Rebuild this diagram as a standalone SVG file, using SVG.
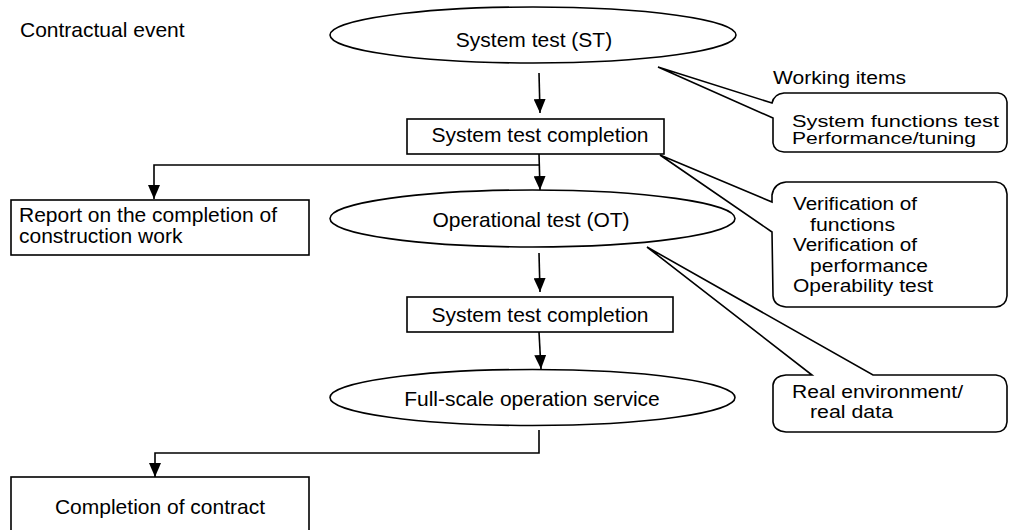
<svg xmlns="http://www.w3.org/2000/svg" width="1009" height="530" viewBox="0 0 1009 530">
<style>
text{font-family:"Liberation Sans",Arial,sans-serif;font-size:21px;fill:#000}
.c{text-anchor:middle}
.b{font-size:17.5px}
.s{fill:#fff;stroke:#000;stroke-width:1.6}
.ln{fill:none;stroke:#000;stroke-width:1.6}
</style>
<defs>
<marker id="ah" viewBox="0 0 14 12" refX="14" refY="6" markerWidth="14" markerHeight="12" orient="auto" markerUnits="userSpaceOnUse"><path d="M0,0 L14,6 L0,12 z" fill="#000"/></marker>
</defs>
<rect width="1009" height="530" fill="#fff"/>
<text x="20" y="37">Contractual event</text>

<g id="connectors" class="ln" marker-end="url(#ah)">
<path d="M539,73 L540,113"/>
<path d="M539,154 L540,190"/>
<path d="M539,165 H154 V199"/>
<path d="M539,253 L540,292"/>
<path d="M539,332 L541,369"/>
<path d="M539,430 V453 H155 V477"/>
</g>

<g id="st"><ellipse class="s" cx="533" cy="35" rx="203" ry="28"/><text class="c" x="534" y="47">System test (ST)</text></g>
<g id="stc1"><rect class="s" x="407" y="119" width="257" height="35"/><text class="c" x="540" y="142">System test completion</text></g>
<g id="report"><rect class="s" x="11" y="200" width="298" height="55"/><text x="19" y="222">Report on the completion of</text><text x="19" y="243">construction work</text></g>
<g id="ot"><ellipse class="s" cx="532.5" cy="218.5" rx="202.5" ry="28.5"/><text class="c" x="531" y="227">Operational test (OT)</text></g>
<g id="stc2"><rect class="s" x="407" y="297" width="266" height="35"/><text class="c" x="540" y="322">System test completion</text></g>
<g id="full"><ellipse class="s" cx="532.5" cy="397.5" rx="202.5" ry="28"/><text class="c" x="532" y="406">Full-scale operation service</text></g>
<g id="contract"><rect class="s" x="11" y="477" width="298" height="60"/><text class="c" x="160" y="514">Completion of contract</text></g>

<g id="working-items">
<text class="b" x="773" y="84" textLength="133" lengthAdjust="spacingAndGlyphs">Working items</text>
<path class="s" d="M773,118 L658,67 L772,103 Q774,94 784,93 L998,93 Q1006,94 1007,102 L1007,143 Q1006,152 998,152 L784,152 Q774,151 773,143 Z"/>
<text class="b" style="font-size:16px" x="792" y="127" textLength="207" lengthAdjust="spacingAndGlyphs">System functions test</text>
<text class="b" style="font-size:16px" x="792" y="144" textLength="184" lengthAdjust="spacingAndGlyphs">Performance/tuning</text>
</g>
<g id="verification">
<path class="s" d="M772,232 L660,155 L772,202 L772,195 Q774,183 786,182 L996,182 Q1006,183 1007,194 L1007,296 Q1006,306 996,307 L786,307 Q774,306 773,296 Z"/>
<text class="b" x="793" y="210" textLength="124" lengthAdjust="spacingAndGlyphs">Verification of</text>
<text class="b" x="810" y="230.5" textLength="85" lengthAdjust="spacingAndGlyphs">functions</text>
<text class="b" x="793" y="251" textLength="124" lengthAdjust="spacingAndGlyphs">Verification of</text>
<text class="b" x="810" y="271.5" textLength="118" lengthAdjust="spacingAndGlyphs">performance</text>
<text class="b" x="793" y="292" textLength="140" lengthAdjust="spacingAndGlyphs">Operability test</text>
</g>
<g id="real-env">
<path class="s" d="M773,385 Q774,376 786,375 L812,375 L647,247 L873,375 L996,375 Q1006,376 1007,386 L1007,422 Q1006,432 996,432 L786,432 Q774,431 773,422 Z"/>
<text class="b" x="792" y="398" textLength="171" lengthAdjust="spacingAndGlyphs">Real environment/</text>
<text class="b" x="810" y="418" textLength="83" lengthAdjust="spacingAndGlyphs">real data</text>
</g>
</svg>
